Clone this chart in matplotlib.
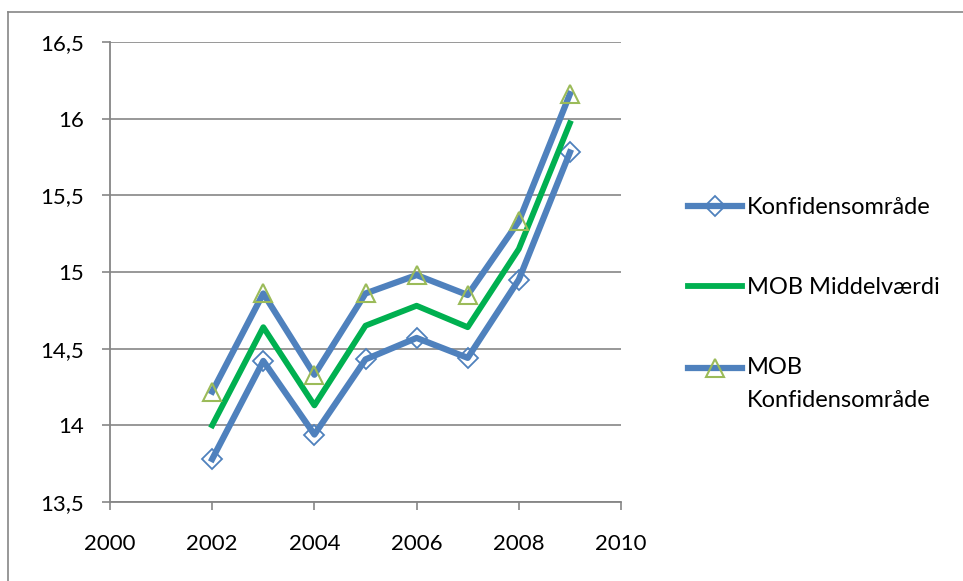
import numpy as np
import matplotlib
matplotlib.use("Agg")
import matplotlib.pyplot as plt
from matplotlib.legend_handler import HandlerLine2D

plt.rcParams["font.family"] = ["Lato", "DejaVu Sans"]

years = [2002, 2003, 2004, 2005, 2006, 2007, 2008, 2009]
konf_low = [13.78, 14.42, 13.94, 14.43, 14.57, 14.44, 14.95, 15.78]
mob_mean = [14.00, 14.64, 14.13, 14.65, 14.78, 14.64, 15.15, 15.97]
mob_konf = [14.22, 14.86, 14.33, 14.86, 14.98, 14.85, 15.33, 16.16]
labels = ["Konfidensområde", "MOB Middelværdi", "MOB\nKonfidensområde"]

y_ticks = [13.5, 14, 14.5, 15, 15.5, 16, 16.5]
y_ticklabels = ["13,5", "14", "14,5", "15", "15,5", "16", "16,5"]
x_ticks = [2000, 2002, 2004, 2006, 2008, 2010]

_BLUE = "#4F81BD"
_GREEN = "#00B050"
_TRI = "#9BBB59"
_AXIS = "#868686"
_FS = 16
_LEG_FS = 17


class _RaisedLine(HandlerLine2D):
    """Put the handle on the first line of a two-line label."""

    def __init__(self, shift, **kw):
        super().__init__(**kw)
        self.shift = shift

    def create_artists(self, legend, orig_handle, xdescent, ydescent, width, height, fontsize, trans):
        artists = super().create_artists(legend, orig_handle, xdescent, ydescent, width, height, fontsize, trans)
        for a in artists:
            a.set_ydata(np.asarray(a.get_ydata()) + self.shift)
        return artists


fig = plt.figure(figsize=(9.63, 5.81), dpi=100)
fig.patch.set_facecolor("white")
ax = fig.add_axes([110 / 963, 1 - 502 / 581, 511 / 963, 460 / 581])

l1, = ax.plot(years, konf_low, color=_BLUE, linewidth=4.5, marker="D", markersize=10,
              markerfacecolor="none", markeredgecolor=_BLUE, markeredgewidth=1.3, zorder=3)
l2, = ax.plot(years, mob_mean, color=_GREEN, linewidth=4.2, zorder=3)
l3, = ax.plot(years, mob_konf, color=_BLUE, linewidth=4.5, marker="^", markersize=13,
              markerfacecolor="none", markeredgecolor=_TRI, markeredgewidth=1.5, zorder=3)

ax.set_xlim(2000, 2010)
ax.set_ylim(13.5, 16.5)
ax.set_xticks(x_ticks)
ax.set_xticklabels([str(x) for x in x_ticks])
ax.set_yticks(y_ticks)
ax.set_yticklabels(y_ticklabels)
ax.grid(axis="y", color=_AXIS, linewidth=1.2, zorder=0)
for side in ("top", "right"):
    ax.spines[side].set_visible(False)
for side in ("left", "bottom"):
    ax.spines[side].set_color(_AXIS)
    ax.spines[side].set_linewidth(1.3)
ax.tick_params(axis="both", direction="out", length=5.8, width=1.2, color=_AXIS,
               labelsize=_FS, labelcolor="black")
ax.tick_params(axis="x", pad=17)
ax.tick_params(axis="y", pad=13)

leg = fig.legend([l1, l2, l3], labels, loc="center left", bbox_to_anchor=(688 / 963, 1 - 304 / 581),
                 frameon=False, fontsize=_LEG_FS, handlelength=2.3, handletextpad=0.2,
                 labelspacing=2.5, borderpad=0, borderaxespad=0,
                 handler_map={l3: _RaisedLine(11.5)})
leg.get_texts()[2].set_linespacing(1.7)

# outer chart border (only left and top are inside the picture)
fig.add_artist(plt.Line2D([8 / 963, 8 / 963], [0, 1 - 12 / 581], transform=fig.transFigure,
                          color=_AXIS, linewidth=1.2))
fig.add_artist(plt.Line2D([8 / 963, 1], [1 - 12 / 581, 1 - 12 / 581], transform=fig.transFigure,
                          color=_AXIS, linewidth=1.2))

fig.savefig("out.png", dpi=100, facecolor="white")
